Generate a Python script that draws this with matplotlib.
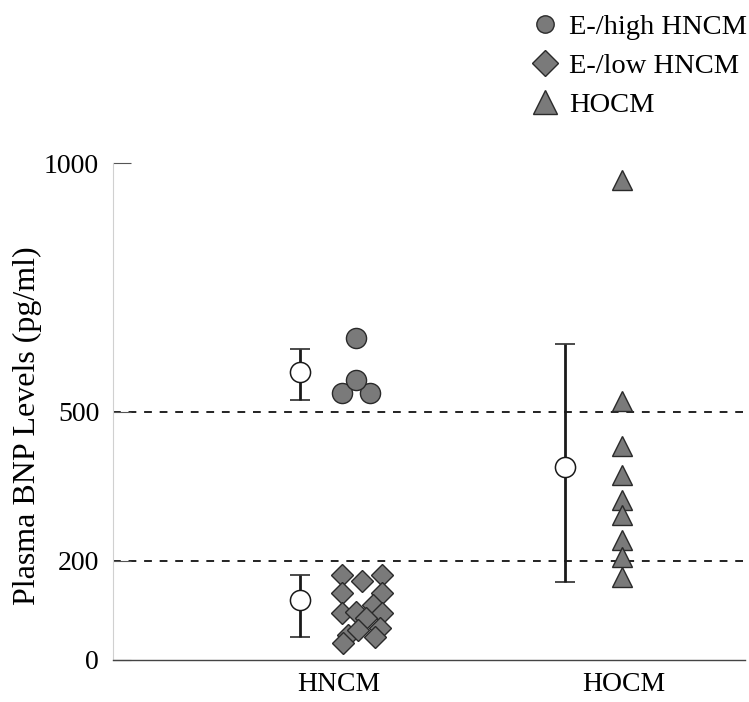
import numpy as np
import matplotlib.pyplot as plt


plt.rcParams["font.family"] = ["Liberation Serif", "DejaVu Serif"]


# -----------------------------
# Data
# -----------------------------

categories = ["HNCM", "HOCM"]

# E-/high HNCM individual values (pg/ml)
high_hncm = [648, 537, 537, 563]
high_hncm_jitter = [0.06, 0.01, 0.11, 0.06]

# E-/low HNCM individual values (pg/ml)
low_hncm = [171, 158, 171, 135, 135, 95, 97, 111, 95, 85, 50, 64, 46, 34, 60]
low_hncm_jitter = [0.01, 0.08, 0.15, 0.01, 0.15, 0.01, 0.06, 0.12,
                   0.15, 0.095, 0.03, 0.145, 0.125, 0.015, 0.065]

# HOCM individual values (pg/ml)
hocm = [966, 522, 431, 372, 322, 292, 241, 207, 167]
hocm_jitter = [-0.007] * len(hocm)

# group means with error bar ends
mean_groups = ["high HNCM", "low HNCM", "HOCM"]
mean_values = [580, 121, 388]
mean_lower = [524, 47, 157]
mean_upper = [625, 171, 636]
mean_category = [0, 0, 1]
mean_jitter = [-0.137, -0.137, -0.207]

cutoffs = [200, 500]
y_ticks = [0, 200, 500, 1000]


# -----------------------------
# Figure
# -----------------------------

fig = plt.figure(figsize=(7.49, 7.02), dpi=100)
ax = fig.add_axes([0.151, 0.06, 0.844, 0.74])

x_pos = np.arange(1, len(categories) + 1)

fill = "#7a7a7a"
edge = "#2a2a2a"

ax.plot(x_pos[0] + np.array(high_hncm_jitter), high_hncm, "o",
        ms=14.5, mfc=fill, mec=edge, mew=1.0, ls="none",
        label="E-/high HNCM", zorder=4)

ax.plot(x_pos[0] + np.array(low_hncm_jitter), low_hncm, "D",
        ms=11.5, mfc=fill, mec=edge, mew=1.0, ls="none",
        label="E-/low HNCM", zorder=4)

ax.plot(x_pos[1] + np.array(hocm_jitter), hocm, "^",
        ms=15, mfc=fill, mec=edge, mew=1.0, ls="none",
        label="HOCM", zorder=4)


# means with error bars
for i in range(len(mean_groups)):

    x = x_pos[mean_category[i]] + mean_jitter[i]
    m = mean_values[i]

    ax.errorbar(
        [x], [m],
        yerr=[[m - mean_lower[i]], [mean_upper[i] - m]],
        fmt="o",
        ms=14.5,
        mfc="white",
        mec="#1a1a1a",
        mew=1.1,
        ecolor="#1a1a1a",
        elinewidth=2.0,
        capsize=7,
        capthick=1.8,
        zorder=3
    )


# cut-off lines
for c in cutoffs:

    ax.axhline(c, color="#222222", lw=1.4, ls=(0, (4, 4)), zorder=1)


# -----------------------------
# Axes styling
# -----------------------------

ax.set_xlim(0.207, 2.425)
ax.set_ylim(0, 1046)

ax.set_xticks(x_pos)
ax.set_xticklabels(categories, fontsize=20)
ax.tick_params(axis="x", length=0, pad=9)

ax.set_yticks(y_ticks)
ax.set_yticklabels([str(t) for t in y_ticks], fontsize=20)
ax.tick_params(axis="y", direction="in", length=13, width=0.8,
               color="#555555", pad=10)

ax.set_ylabel("Plasma BNP Levels (pg/ml)", fontsize=23)
ax.yaxis.set_label_coords(-0.112, 0.45)

ax.spines["top"].set_visible(False)
ax.spines["right"].set_visible(False)
ax.spines["left"].set_color("#d0d0d0")
ax.spines["left"].set_linewidth(0.8)
ax.spines["left"].set_bounds(0, 1000)
ax.spines["bottom"].set_color("#444444")
ax.spines["bottom"].set_linewidth(1.0)


# -----------------------------
# Legend
# -----------------------------

leg = fig.legend(
    loc="upper right",
    bbox_to_anchor=(1.02, 1.004),
    frameon=False,
    fontsize=20.5,
    handletextpad=0.35,
    labelspacing=0.45,
    handlelength=1.0,
    borderaxespad=0.2
)

for handle, size in zip(leg.legend_handles, [12.5, 13.5, 17]):

    handle.set_markersize(size)


plt.savefig("out.png", dpi=100)
plt.close()
